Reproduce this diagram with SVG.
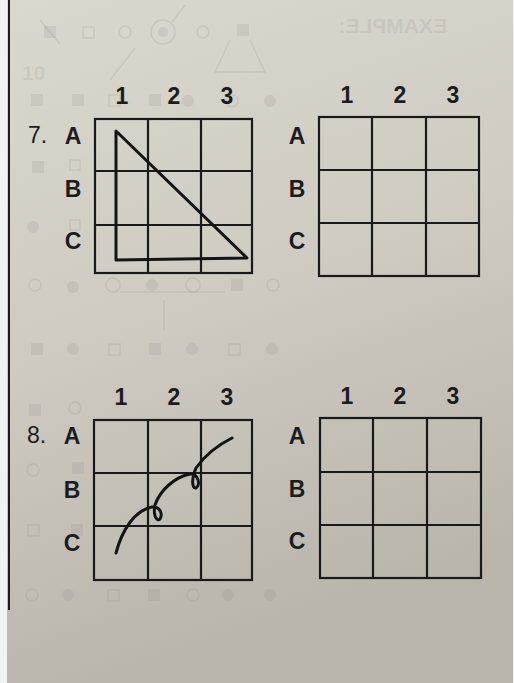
<svg xmlns="http://www.w3.org/2000/svg" width="514" height="683" viewBox="0 0 514 683">
<defs>
<linearGradient id="paper" x1="0" y1="0" x2="0.25" y2="1">
<stop offset="0" stop-color="#dbd8d0"/>
<stop offset="0.5" stop-color="#cfcbc3"/>
<stop offset="1" stop-color="#b9b5ad"/>
</linearGradient>
<style>
.grid{fill:none;stroke:#1a1a1a;stroke-width:2.2}
.lbl{font-family:"Liberation Sans",Arial,sans-serif;font-weight:bold;font-size:23px;fill:#1c1c1c;text-anchor:middle}
.num{font-family:"Liberation Sans",Arial,sans-serif;font-size:23px;fill:#1c1c1c}
.ink{fill:none;stroke:#141414;stroke-width:3;stroke-linecap:round;stroke-linejoin:round}
.gf{fill:#8a857c;fill-opacity:0.16;stroke:none}
.go{fill:none;stroke:#8a857c;stroke-opacity:0.18;stroke-width:1.5}
.gt{font-family:"Liberation Sans",Arial,sans-serif;font-weight:bold;font-size:21px;fill:#8a857c;fill-opacity:0.16}
</style>
</defs>
<rect x="0" y="0" width="514" height="683" fill="#f2f2f2"/>
<rect x="7" y="0" width="506" height="683" fill="url(#paper)"/>
<line x1="9" y1="0" x2="9" y2="610" stroke="#1c1c1c" stroke-width="2"/>

<g id="show-through">
<rect class="gf" x="44" y="26" width="12" height="12"/>
<line class="go" x1="40" y1="20" x2="60" y2="44"/>
<rect class="go" x="83" y="27" width="11" height="11"/>
<circle class="go" cx="125" cy="32" r="6"/>
<circle class="go" cx="163" cy="32" r="12"/>
<circle class="gf" cx="163" cy="32" r="5"/>
<line class="go" x1="172" y1="22" x2="185" y2="5"/>
<circle class="go" cx="203" cy="32" r="6"/>
<rect class="gf" x="237" y="24" width="12" height="12"/>
<path class="go" d="M230,40 L215,72 L265,72 L250,40"/>
<line class="go" x1="110" y1="80" x2="135" y2="48"/>
<text class="gt" x="22" y="80" font-weight="normal">10</text>
<text class="gt" transform="translate(447,33) scale(-1,1)">EXAMPLE:</text>

<rect class="gf" x="31" y="94" width="12" height="12"/>
<rect class="gf" x="72" y="94" width="12" height="12"/>
<rect class="go" x="109" y="95" width="11" height="11"/>
<rect class="gf" x="149" y="94" width="12" height="12"/>
<circle class="gf" cx="188" cy="101" r="6"/>
<circle class="go" cx="232" cy="101" r="6"/>
<circle class="gf" cx="270" cy="101" r="6"/>

<rect class="gf" x="32" y="161" width="12" height="12"/>
<rect class="go" x="70" y="160" width="10" height="10"/>
<circle class="gf" cx="33" cy="227" r="6"/>
<rect class="go" x="70" y="220" width="10" height="10"/>
<circle class="go" cx="35" cy="285" r="6"/>
<circle class="gf" cx="73" cy="287" r="6"/>
<circle class="go" cx="113" cy="285" r="7"/>
<circle class="gf" cx="152" cy="285" r="6"/>
<circle class="go" cx="193" cy="285" r="7"/>
<rect class="gf" x="231" y="279" width="12" height="12"/>
<circle class="go" cx="273" cy="285" r="6"/>
<line class="go" x1="120" y1="292" x2="225" y2="292"/>
<line class="go" x1="164" y1="300" x2="164" y2="330"/>
<rect class="gf" x="31" y="343" width="12" height="12"/>
<circle class="gf" cx="73" cy="349" r="6"/>
<rect class="go" x="109" y="344" width="11" height="11"/>
<rect class="gf" x="149" y="343" width="12" height="12"/>
<circle class="gf" cx="192" cy="349" r="6"/>
<rect class="go" x="229" y="344" width="11" height="11"/>
<circle class="gf" cx="272" cy="349" r="6"/>

<rect class="gf" x="29" y="404" width="12" height="12"/>
<circle class="go" cx="75" cy="408" r="6"/>
<circle class="go" cx="33" cy="470" r="6"/>
<rect class="gf" x="72" y="462" width="12" height="12"/>
<rect class="go" x="28" y="525" width="11" height="11"/>
<rect class="gf" x="71" y="524" width="12" height="12"/>
<circle class="go" cx="32" cy="595" r="6"/>
<circle class="gf" cx="68" cy="595" r="6"/>
<rect class="go" x="108" y="590" width="11" height="11"/>
<rect class="gf" x="148" y="589" width="12" height="12"/>
<circle class="go" cx="193" cy="595" r="6"/>
<circle class="gf" cx="228" cy="595" r="6"/>
<circle class="gf" cx="270" cy="595" r="6"/>
</g>

<g id="q7-left">
<text class="num" x="28" y="143">7.</text>
<text class="lbl" x="122" y="104">1</text>
<text class="lbl" x="174" y="104">2</text>
<text class="lbl" x="227" y="104">3</text>
<text class="lbl" x="73" y="144">A</text>
<text class="lbl" x="73" y="197">B</text>
<text class="lbl" x="73" y="249">C</text>
<rect class="grid" x="95" y="119" width="157" height="154"/>
<path class="grid" d="M148,119V273M201,119V273M95,171H252M95,225H252"/>
<path class="ink" d="M116,131 L116,260 L247,258 Z"/>
</g>

<g id="q7-right">
<text class="lbl" x="347" y="103">1</text>
<text class="lbl" x="400" y="103">2</text>
<text class="lbl" x="453" y="103">3</text>
<text class="lbl" x="297" y="144">A</text>
<text class="lbl" x="297" y="197">B</text>
<text class="lbl" x="297" y="249">C</text>
<rect class="grid" x="319" y="117" width="160" height="159"/>
<path class="grid" d="M372,117V276M426,117V276M319,170H479M319,223H479"/>
</g>

<g id="q8-left">
<text class="num" x="27" y="443">8.</text>
<text class="lbl" x="121" y="405">1</text>
<text class="lbl" x="174" y="405">2</text>
<text class="lbl" x="227" y="405">3</text>
<text class="lbl" x="72" y="444">A</text>
<text class="lbl" x="72" y="498">B</text>
<text class="lbl" x="72" y="551">C</text>
<rect class="grid" x="94" y="420" width="158" height="160"/>
<path class="grid" d="M148,420V580M201,420V580M94,473H252M94,526H252"/>
<path class="ink" d="M116,553 C122,530 135,510 152,507 C160,506 163,514 160,519 C156,522 153,514 155,505 C160,490 175,477 190,474 C198,473 201,485 196,488 C192,489 191,478 196,468 C205,455 220,444 232,438"/>
</g>

<g id="q8-right">
<text class="lbl" x="347" y="404">1</text>
<text class="lbl" x="400" y="404">2</text>
<text class="lbl" x="453" y="404">3</text>
<text class="lbl" x="297" y="444">A</text>
<text class="lbl" x="297" y="497">B</text>
<text class="lbl" x="297" y="549">C</text>
<rect class="grid" x="320" y="418" width="161" height="160"/>
<path class="grid" d="M373,418V578M427,418V578M320,472H481M320,525H481"/>
</g>
<g id="connectors"/>
</svg>
